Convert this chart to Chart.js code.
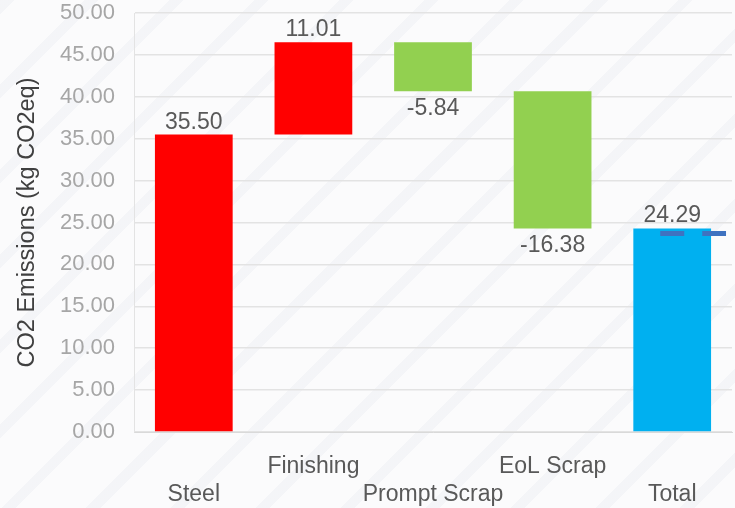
<!DOCTYPE html>
<html><head><meta charset="utf-8">
<script src="https://cdn.jsdelivr.net/npm/chart.js@4.4.1/dist/chart.umd.min.js"></script>
<style>
html,body{margin:0;padding:0;}
body{width:735px;height:508px;overflow:hidden;
background:#fbfbfc repeating-linear-gradient(135deg, rgba(228,231,238,0.3) 0px, rgba(228,231,238,0.3) 10px, rgba(255,255,255,0) 10px, rgba(255,255,255,0) 60px);}
#wrap{position:absolute;left:0;top:0;width:735px;height:508px;}
</style></head>
<body><div id="wrap"><canvas id="c" width="735" height="508"></canvas></div>
<script>
const categories = [["", "Steel"], ["Finishing", ""], ["", "Prompt Scrap"], ["EoL Scrap", ""], ["", "Total"]];
const stepValues = [35.50, 11.01, -5.84, -16.38];
const totalValue = 24.29;
const barColors = ["#FF0000", "#FF0000", "#92D050", "#92D050", "#00B0F0"];
const refLineX = [3.9, 4.45];
const refLineY = [23.7, 23.7];
const yTicks = [0, 5, 10, 15, 20, 25, 30, 35, 40, 45, 50];

// build floating bars
const floating = [];
const labelVals = [];
let run = 0;
stepValues.forEach(v => { floating.push([run, run + v]); run += v; labelVals.push(v); });
floating.push([0, totalValue]); labelVals.push(totalValue);

const FONT = "'Liberation Sans', Arial, sans-serif";

const labelPlugin = {
  id: 'vals',
  afterDatasetsDraw(chart) {
    const ctx = chart.ctx;
    const meta = chart.getDatasetMeta(0);
    ctx.save();
    ctx.font = "23px " + FONT;
    ctx.fillStyle = "#595959";
    ctx.textAlign = "center";
    ctx.textBaseline = "alphabetic";
    meta.data.forEach((el, i) => {
      const v = labelVals[i];
      const top = Math.min(el.y, el.base), bot = Math.max(el.y, el.base);
      if (v >= 0) { ctx.fillText(v.toFixed(2), el.x, top - 6); }
      else { ctx.fillText(v.toFixed(2), el.x, bot + 24); }
    });
    ctx.restore();
  }
};

new Chart(document.getElementById('c'), {
  type: 'bar',
  data: {
    labels: categories,
    datasets: [{
      data: floating,
      backgroundColor: barColors,
      borderWidth: 0,
      grouped: false,
      order: 2,
      categoryPercentage: 1.0,
      barPercentage: 0.65,
      xAxisID: 'x', yAxisID: 'y'
    }, {
      type: 'line',
      order: 0,
      data: refLineX.map((x, i) => ({x: x, y: refLineY[i]})),
      borderColor: '#3F72C0',
      borderWidth: 5,
      borderDash: [24, 18],
      borderCapStyle: 'butt',
      pointRadius: 0,
      fill: false,
      clip: false,
      xAxisID: 'x2', yAxisID: 'y'
    }]
  },
  options: {
    responsive: false,
    animation: false,
    devicePixelRatio: 1,
    layout: { padding: { top: 0, right: 3, left: 0, bottom: 0 } },
    plugins: { legend: { display: false }, tooltip: { enabled: false } },
    scales: {
      x: {
        grid: { display: false, drawTicks: false },
        border: { display: true, color: '#d9d9d9' },
        ticks: { color: '#595959', font: { family: FONT, size: 23 }, padding: 21, maxRotation: 0, autoSkip: false },
        afterFit(s) { s.height = 76; }
      },
      x2: {
        type: 'linear', display: false, offset: false, min: -0.5, max: 4.5
      },
      y: {
        min: 0, max: 50,
        afterBuildTicks(s) { s.ticks = yTicks.map(v => ({value: v})); },
        grid: { color: '#e3e3e3', drawTicks: false, lineWidth: 1.5 },
        border: { display: true, color: '#e3e3e3' },
        ticks: { color: '#a6a6a6', font: { family: FONT, size: 22 }, padding: 19, callback: v => Number(v).toFixed(2) },
        title: { display: true, text: 'CO2 Emissions (kg CO2eq)', color: '#404040', font: { family: FONT, size: 23.5 }, padding: { top: 13, bottom: 0 } },
        afterFit(s) { s.width = 134; s.paddingTop = 13; }
      }
    }
  },
  plugins: [labelPlugin]
});
</script></body></html>
